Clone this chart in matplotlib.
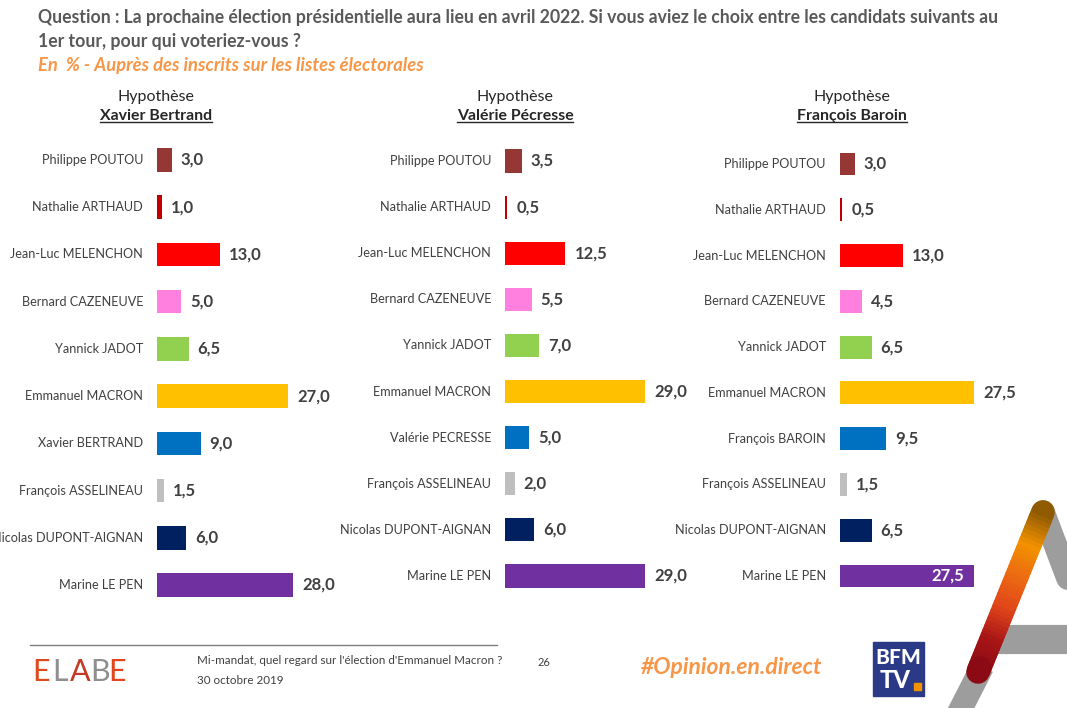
import matplotlib
matplotlib.use("Agg")
import matplotlib.pyplot as plt
import numpy as np
from matplotlib.lines import Line2D
from matplotlib.patches import Rectangle
from matplotlib.colors import to_rgb

plt.rcParams['font.family'] = ['Lato', 'DejaVu Sans']

W, H = 1067, 708

names_1 = ["Philippe POUTOU", "Nathalie ARTHAUD", "Jean-Luc MELENCHON", "Bernard CAZENEUVE",
           "Yannick JADOT", "Emmanuel MACRON", "Xavier BERTRAND", "François ASSELINEAU",
           "Nicolas DUPONT-AIGNAN", "Marine LE PEN"]
values_1 = [3.0, 1.0, 13.0, 5.0, 6.5, 27.0, 9.0, 1.5, 6.0, 28.0]

names_2 = ["Philippe POUTOU", "Nathalie ARTHAUD", "Jean-Luc MELENCHON", "Bernard CAZENEUVE",
           "Yannick JADOT", "Emmanuel MACRON", "Valérie PECRESSE", "François ASSELINEAU",
           "Nicolas DUPONT-AIGNAN", "Marine LE PEN"]
values_2 = [3.5, 0.5, 12.5, 5.5, 7.0, 29.0, 5.0, 2.0, 6.0, 29.0]

names_3 = ["Philippe POUTOU", "Nathalie ARTHAUD", "Jean-Luc MELENCHON", "Bernard CAZENEUVE",
           "Yannick JADOT", "Emmanuel MACRON", "François BAROIN", "François ASSELINEAU",
           "Nicolas DUPONT-AIGNAN", "Marine LE PEN"]
values_3 = [3.0, 0.5, 13.0, 4.5, 6.5, 27.5, 9.5, 1.5, 6.5, 27.5]

hypotheses = ["Xavier Bertrand", "Valérie Pécresse", "François Baroin"]

colors = ["#953735", "#C00000", "#FF0000", "#FF80DF", "#92D050",
          "#FFC000", "#0070C0", "#BFBFBF", "#002060", "#7030A0"]

TXT = "#404040"

fig = plt.figure(figsize=(W / 100, H / 100), dpi=100)


def px(x, y):
    return x / W, 1 - y / H


# panel layout in pixels: bar origin x, first/last row centre, px per unit, header centre
panels = [
    dict(x0=157, top=160, bot=585, scale=4.86, hx=156),
    dict(x0=505, top=161, bot=576, scale=4.83, hx=515),
    dict(x0=840, top=164, bot=576, scale=4.87, hx=852),
]
series = [(names_1, values_1), (names_2, values_2), (names_3, values_3)]

headers = []
for k, (p, (names, vals), hyp) in enumerate(zip(panels, series, hypotheses)):
    step = (p["bot"] - p["top"]) / 9
    y_top = p["top"] - step / 2
    y_bot = p["bot"] + step / 2
    xmax = 40
    ax = fig.add_axes([p["x0"] / W, 1 - y_bot / H, xmax * p["scale"] / W, (y_bot - y_top) / H])
    ax.set_xlim(0, xmax)
    ax.set_ylim(9.5, -0.5)
    ax.axis("off")
    rows = list(range(len(names)))
    ax.barh(rows, vals, height=0.5, color=colors)
    for i, (n, v) in enumerate(zip(names, vals)):
        ax.annotate(n, (0, i), xytext=(-14, 0), textcoords="offset pixels",
                    ha="right", va="center", fontsize=9.1, color=TXT, annotation_clip=False)
        lab = f"{v:.1f}".replace(".", ",")
        if k == 2 and i == 9:
            # label sits inside the last bar of the third panel
            ax.annotate(lab, (v, i), xytext=(-10, 0), textcoords="offset pixels",
                        ha="right", va="center", fontsize=12, fontweight="bold", color="white")
        else:
            ax.annotate(lab, (v, i), xytext=(9, 0), textcoords="offset pixels",
                        ha="left", va="center", fontsize=12, fontweight="bold", color=TXT,
                        annotation_clip=False)
    fig.text(*px(p["hx"], 97), "Hypothèse", ha="center", va="center", fontsize=11.5, color="#262626")
    headers.append(fig.text(*px(p["hx"], 116), hyp, ha="center", va="center", fontsize=11.4,
                            fontweight="bold", color="#262626"))

# title block
fig.text(*px(38, 17), "Question : La prochaine élection présidentielle aura lieu en avril 2022. "
         "Si vous aviez le choix entre les candidats suivants au",
         ha="left", va="center", fontsize=12.7, fontweight="bold", color="#595959")
fig.text(*px(38, 41), "1er tour, pour qui voteriez-vous ?",
         ha="left", va="center", fontsize=12.7, fontweight="bold", color="#595959")
fig.text(*px(38, 66), "En  % - Auprès des inscrits sur les listes électorales",
         ha="left", va="center", fontsize=13.2, fontweight="bold", style="italic", color="#F79646")

# footer
fig.add_artist(Line2D([30 / W, 497 / W], [1 - 645 / H] * 2, color="#7F7F7F", lw=1))
elabe_cols = ["#DD4A1C", "#8F8F8F", "#C43A24", "#8F8F8F", "#E4441A"]
xs = [32, 52, 70, 90, 108]
for ch, c, x in zip("ELABE", elabe_cols, xs):
    fig.text(*px(x, 672), ch, ha="left", va="center", fontsize=22, color=c, fontweight="normal")
fig.text(*px(197, 661), "Mi-mandat, quel regard sur l'élection d'Emmanuel Macron ?",
         ha="left", va="center", fontsize=8.4, color=TXT)
fig.text(*px(197, 680), "30 octobre 2019", ha="left", va="center", fontsize=8.4, color=TXT)
fig.text(*px(538, 663), "26", ha="left", va="center", fontsize=8, color=TXT)
fig.text(*px(641, 668), "#Opinion.en.direct", ha="left", va="center", fontsize=16.5,
         fontweight="bold", style="italic", color="#F79646")

# BFM TV logo
fig.add_artist(Rectangle(px(873, 696), 51 / W, 54 / H, color="#2B3A86"))
fig.text(*px(898, 658), "BFM", ha="center", va="center", fontsize=15, fontweight="black", color="white")
fig.text(*px(895, 680), "TV", ha="center", va="center", fontsize=17, fontweight="black", color="white")
fig.add_artist(Rectangle(px(914, 690), 7 / W, 7 / H, color="#F39200"))

# big "A" decoration
fig.add_artist(Line2D([990 / W, 1067 / W], [1 - 639 / H] * 2, color="#9D9D9D", lw=21, solid_capstyle="butt"))
fig.add_artist(Line2D([1043 / W, 1080 / W], [1 - 512 / H, 1 - 610 / H], color="#9D9D9D", lw=17,
                      solid_capstyle="round"))
fig.add_artist(Line2D([977 / W, 950 / W], [1 - 677 / H, 1 - 730 / H], color="#9D9D9D", lw=17))
stops = [to_rgb(c) for c in ["#8F5A00", "#F39200", "#EC6A12", "#E0461A", "#A81616", "#8B0A14"]]
nseg = 40
for s in range(nseg):
    t = s / (nseg - 1) * (len(stops) - 1)
    j = min(int(t), len(stops) - 2)
    f = t - j
    c = tuple((1 - f) * np.array(stops[j]) + f * np.array(stops[j + 1]))
    # each piece runs a little past the next one so no seam shows
    s1 = min(s + 1.8, nseg)
    xa = 1043 + (978 - 1043) * s / nseg
    xb = 1043 + (978 - 1043) * s1 / nseg
    ya = 512 + (672 - 512) * s / nseg
    yb = 512 + (672 - 512) * s1 / nseg
    cap = "round" if s in (0, nseg - 1) else "butt"
    fig.add_artist(Line2D([xa / W, xb / W], [1 - ya / H, 1 - yb / H], color=c, lw=17,
                          solid_capstyle=cap))

# underline the hypothesis names
fig.canvas.draw()
r = fig.canvas.get_renderer()
for t in headers:
    bb = t.get_window_extent(r).transformed(fig.transFigure.inverted())
    fig.add_artist(Line2D([bb.x0, bb.x1], [bb.y0 + 0.002] * 2, color="#262626", lw=1))

plt.savefig("out.png", dpi=100)
